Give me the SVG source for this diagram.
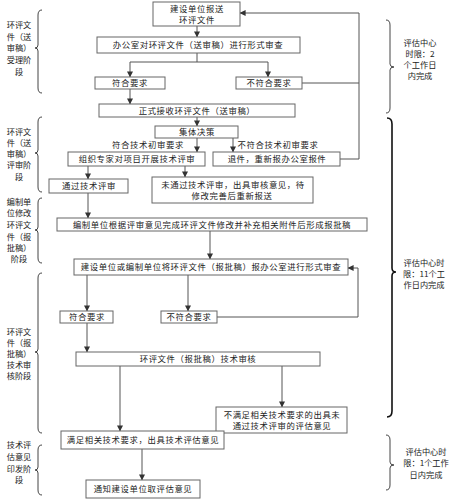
<svg xmlns="http://www.w3.org/2000/svg" width="455" height="500" viewBox="0 0 455 500">
<defs>
<marker id="ah" viewBox="0 0 8 8" refX="7.5" refY="4" markerWidth="6" markerHeight="6" orient="auto" markerUnits="userSpaceOnUse">
<path d="M0,0 L8,4 L0,8 Z" fill="#333"/>
</marker>
<style>
.box{fill:#fff;stroke:#666;stroke-width:1}
.t{font-family:"Noto Sans CJK SC","Noto Sans",sans-serif;font-size:8.4px;fill:#222;letter-spacing:0.6px;text-anchor:middle}
.lbl{font-family:"Noto Sans CJK SC","Noto Sans",sans-serif;font-size:8.2px;fill:#222;text-anchor:middle}
.c{fill:none;stroke:#555;stroke-width:1}
.a{marker-end:url(#ah)}
.br{fill:none;stroke:#444;stroke-width:1}
.brb{fill:none;stroke:#111;stroke-width:1.6}
</style>
</defs>
<rect width="455" height="500" fill="#fff"/>

<g id="connectors">
<line class="c a" x1="197" y1="26" x2="197" y2="37"/>
<polyline class="c" points="197,53 197,62"/>
<line class="c" x1="130" y1="62" x2="268" y2="62"/>
<line class="c a" x1="130" y1="62" x2="130" y2="77"/>
<line class="c a" x1="268" y1="62" x2="268" y2="77"/>
<line class="c" x1="302" y1="83" x2="359" y2="83"/>
<line class="c" x1="359" y1="13" x2="359" y2="159"/>
<line class="c a" x1="359" y1="13" x2="240" y2="13"/>
<line class="c" x1="340" y1="159" x2="359" y2="159"/>
<line class="c a" x1="130" y1="89" x2="130" y2="104"/>
<line class="c a" x1="197" y1="117" x2="197" y2="126"/>
<line class="c a" x1="197" y1="138" x2="197" y2="152"/>
<line class="c a" x1="233" y1="138" x2="233" y2="152"/>
<line class="c a" x1="88" y1="166" x2="88" y2="179"/>
<line class="c a" x1="185" y1="166" x2="185" y2="177"/>
<line class="c a" x1="88" y1="193" x2="88" y2="218"/>
<line class="c a" x1="210" y1="231" x2="210" y2="259"/>
<line class="c a" x1="87" y1="275" x2="87" y2="311"/>
<line class="c a" x1="188" y1="275" x2="188" y2="311"/>
<polyline class="c a" points="217,317 358,317 358,268 348,268"/>
<line class="c a" x1="87" y1="323" x2="87" y2="352"/>
<line class="c a" x1="120" y1="366" x2="120" y2="431"/>
<line class="c a" x1="282" y1="366" x2="282" y2="407"/>
<line class="c a" x1="142" y1="449" x2="142" y2="480"/>
<text class="t" x="148" y="148">符合技术初审要求</text>
<text class="t" x="278" y="148">不符合技术初审要求</text>
</g>

<g id="n1"><rect class="box" x="153" y="2" width="87" height="24"/><text class="t" x="197" y="11.5">建设单位报送</text><text class="t" x="197" y="22.5">环评文件</text></g>
<g id="n2"><rect class="box" x="97" y="37" width="203" height="16"/><text class="t" x="198" y="48">办公室对环评文件（送审稿）进行形式审查</text></g>
<g id="n3"><rect class="box" x="95" y="77" width="70" height="12"/><text class="t" x="130" y="86">符合要求</text></g>
<g id="n4"><rect class="box" x="236" y="77" width="66" height="12"/><text class="t" x="269" y="86">不符合要求</text></g>
<g id="n5"><rect class="box" x="99" y="104" width="196" height="13"/><text class="t" x="197" y="114">正式接收环评文件（送审稿）</text></g>
<g id="n6"><rect class="box" x="155" y="126" width="83" height="12"/><text class="t" x="197" y="135">集体决策</text></g>
<g id="n7"><rect class="box" x="68" y="152" width="137" height="14"/><text class="t" x="137" y="162">组织专家对项目开展技术评审</text></g>
<g id="n8"><rect class="box" x="213" y="152" width="127" height="14"/><text class="t" x="277" y="162">退件，重新报办公室报件</text></g>
<g id="n9"><rect class="box" x="49" y="179" width="79" height="14"/><text class="t" x="89" y="189">通过技术评审</text></g>
<g id="n10"><rect class="box" x="152" y="177" width="161" height="26"/><text class="t" x="233" y="188">未通过技术评审，出具审核意见，待</text><text class="t" x="232" y="199">修改完善后重新报送</text></g>
<g id="n11"><rect class="box" x="57" y="218" width="310" height="13"/><text class="t" x="212" y="228">编制单位根据评审意见完成环评文件修改并补充相关附件后形成报批稿</text></g>
<g id="n12"><rect class="box" x="74" y="259" width="274" height="16"/><text class="t" x="211" y="270">建设单位或编制单位将环评文件（报批稿）报办公室进行形式审查</text></g>
<g id="n13"><rect class="box" x="60" y="311" width="53" height="12"/><text class="t" x="87" y="320">符合要求</text></g>
<g id="n14"><rect class="box" x="161" y="311" width="56" height="12"/><text class="t" x="189" y="320">不符合要求</text></g>
<g id="n15"><rect class="box" x="76" y="352" width="244" height="14"/><text class="t" x="198" y="362">环评文件（报批稿）技术审核</text></g>
<g id="n16"><rect class="box" x="216" y="407" width="131" height="26"/><text class="t" x="282" y="418">不满足相关技术要求的出具未</text><text class="t" x="282" y="429">通过技术评审的评估意见</text></g>
<g id="n17"><rect class="box" x="61" y="431" width="163" height="18"/><text class="t" x="143" y="443">满足相关技术要求，出具技术评估意见</text></g>
<g id="n18"><rect class="box" x="86" y="480" width="114" height="18"/><text class="t" x="143" y="492">通知建设单位取评估意见</text></g>

<g id="stage1">
<path class="br" d="M42,10 Q38,10 38,15 L38,45 Q38,48 35,48 Q38,48 38,51 L38,88 Q38,93 42,93"/>
<text class="lbl" x="19" y="28">环评文</text><text class="lbl" x="19" y="40">件（送</text><text class="lbl" x="19" y="51">审稿）</text><text class="lbl" x="19" y="63">受理阶</text><text class="lbl" x="19" y="75">段</text>
</g>
<g id="stage2">
<path class="br" d="M42,117 Q38,117 38,122 L38,150 Q38,153 35,153 Q38,153 38,156 L38,187 Q38,192 42,192"/>
<text class="lbl" x="19" y="135">环评文</text><text class="lbl" x="19" y="146">件（送</text><text class="lbl" x="19" y="157">审稿）</text><text class="lbl" x="19" y="168">评审阶</text><text class="lbl" x="19" y="180">段</text>
</g>
<g id="stage3">
<path class="br" d="M42,198 Q38,198 38,203 L38,227 Q38,230 35,230 Q38,230 38,233 L38,258 Q38,263 42,263"/>
<text class="lbl" x="19" y="205">编制单</text><text class="lbl" x="19" y="216">位修改</text><text class="lbl" x="19" y="228">环评文</text><text class="lbl" x="19" y="240">件（报</text><text class="lbl" x="19" y="251">批稿）</text><text class="lbl" x="19" y="262">阶段</text>
</g>
<g id="stage4">
<path class="br" d="M42,273 Q38,273 38,278 L38,349 Q38,352 35,352 Q38,352 38,355 L38,428 Q38,433 42,433"/>
<text class="lbl" x="19" y="335">环评文</text><text class="lbl" x="19" y="346">件（报</text><text class="lbl" x="19" y="357">批稿）</text><text class="lbl" x="19" y="368">技术审</text><text class="lbl" x="19" y="379">核阶段</text>
</g>
<g id="stage5">
<path class="br" d="M42,445 Q38,445 38,450 L38,467 Q38,470 35,470 Q38,470 38,473 L38,490 Q38,495 42,495"/>
<text class="lbl" x="19" y="448">技术评</text><text class="lbl" x="19" y="460">估意见</text><text class="lbl" x="19" y="472">印发阶</text><text class="lbl" x="19" y="483">段</text>
</g>

<g id="time1">
<path class="br" d="M386,20 Q390,20 390,25 L390,64 Q390,67 394,67 Q390,67 390,70 L390,108 Q390,113 386,113"/>
<text class="lbl" x="420" y="46">评估中心</text><text class="lbl" x="420" y="57">时限：2</text><text class="lbl" x="420" y="68">个工作日</text><text class="lbl" x="420" y="79">内完成</text>
</g>
<g id="time2">
<path class="brb" d="M387,118 Q392,118 392,124 L392,268 Q392,272 396,272 Q392,272 392,276 L392,411 Q392,417 387,417"/>
<text class="lbl" x="424" y="266">评估中心时</text><text class="lbl" x="424" y="277">限：11个工</text><text class="lbl" x="424" y="288">作日内完成</text>
</g>
<g id="time3">
<path class="br" d="M386,435 Q390,435 390,440 L390,462 Q390,465 394,465 Q390,465 390,468 L390,485 Q390,490 386,490"/>
<text class="lbl" x="426" y="455">评估中心时</text><text class="lbl" x="426" y="466">限：1个工作</text><text class="lbl" x="426" y="478">日内完成</text>
</g>
</svg>
